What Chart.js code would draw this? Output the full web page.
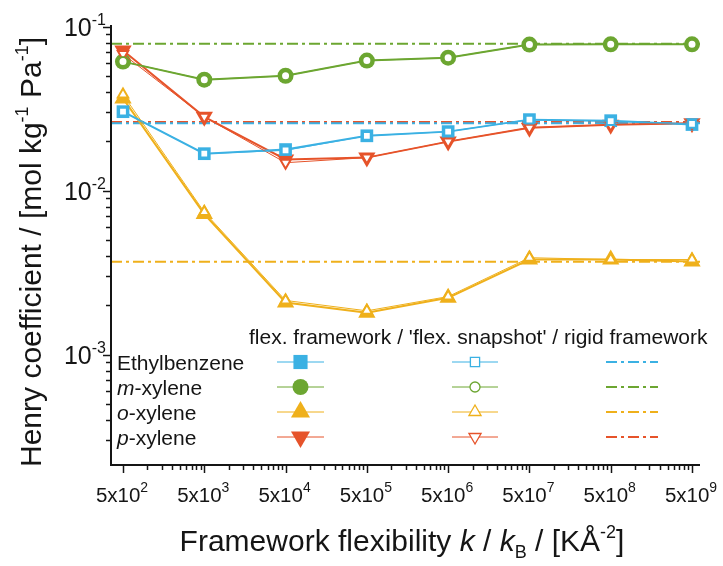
<!DOCTYPE html>
<html lang="en">
<head>
<meta charset="UTF-8" />
<title>Henry coefficient vs framework flexibility</title>
<script src="https://cdn.jsdelivr.net/npm/chart.js"></script>
<style>
  html, body { margin: 0; padding: 0; background: #fff; }
  #chart { display: block; }
</style>
</head>
<body>
<canvas id="chart" width="723" height="566"></canvas>
<script>
// framework flexibility k/kB in K/Å^2 (categories on a log axis)
const flexibility = [5e2, 5e3, 5e4, 5e5, 5e6, 5e7, 5e8, 5e9];
const xTickExponents = [2, 3, 4, 5, 6, 7, 8, 9];
const yTickExponents = [-1, -2, -3];

const molecules = ['Ethylbenzene', 'm-xylene', 'o-xylene', 'p-xylene'];

// Henry coefficients, mol kg^-1 Pa^-1 — flexible framework
const ethylFlex = [0.0303, 0.0168, 0.0178, 0.0216, 0.0229, 0.0271, 0.0267, 0.0253];
const metaFlex  = [0.0612, 0.0475, 0.0502, 0.0621, 0.0647, 0.0777, 0.0780, 0.0780];
const orthoFlex = [0.0365, 0.0072, 0.00208, 0.00180, 0.00222, 0.0038, 0.0038, 0.0037];
const paraFlex  = [0.0715, 0.0282, 0.0155, 0.0159, 0.0199, 0.0242, 0.0252, 0.0258];

// 'flex. snapshot'
const ethylSnap = [0.0303, 0.0168, 0.0176, 0.0216, 0.0229, 0.0271, 0.0265, 0.0255];
const metaSnap  = [0.0612, 0.0475, 0.0502, 0.0621, 0.0647, 0.0777, 0.0780, 0.0780];
const orthoSnap = [0.0385, 0.0074, 0.00214, 0.00185, 0.00226, 0.0039, 0.0038, 0.0038];
const paraSnap  = [0.0680, 0.0282, 0.0148, 0.0159, 0.0199, 0.0242, 0.0252, 0.0258];

// rigid framework (one value per molecule)
const rigidValues = [0.0258, 0.0787, 0.00369, 0.0262];

const flexSeries = [ethylFlex, metaFlex, orthoFlex, paraFlex];
const snapSeries = [ethylSnap, metaSnap, orthoSnap, paraSnap];

// styling
const colors = ['#3BB1E3', '#6CA631', '#EFB01B', '#E6532A'];
const markerStyles = ['rect', 'circle', 'triangle', 'triangle'];
const markerRotation = [0, 0, 0, 180];
const flexRadius = [9, 8, 10, 10];
const snapRadius = [5.5, 4.5, 6, 6];
const dashDot = [11, 4, 3, 4];

const xMin = Math.pow(10, 2.5514), xMax = Math.pow(10, 9.7974);
const yMin = Math.pow(10, -3.673), yMax = Math.pow(10, -0.99);

const INK = '#151515';
const F = (size, italic) => (italic ? 'italic ' : '') + size + 'px "Liberation Sans", Arial, sans-serif';

function pts(values) {
  return flexibility.map((x, i) => ({ x, y: values[i] }));
}

const datasets = [];
molecules.forEach((name, i) => {
  datasets.push({
    label: name + ' rigid',
    data: [{ x: xMin, y: rigidValues[i] }, { x: xMax, y: rigidValues[i] }],
    borderColor: colors[i],
    borderWidth: 2,
    borderDash: dashDot,
    pointRadius: 0,
    order: 3
  });
  datasets.push({
    label: name + ' flex',
    data: pts(flexSeries[i]),
    borderColor: colors[i],
    borderWidth: 2,
    pointStyle: markerStyles[i],
    rotation: markerRotation[i],
    pointRadius: flexRadius[i],
    pointBackgroundColor: colors[i],
    pointBorderColor: colors[i],
    pointBorderWidth: 0,
    order: 2
  });
  datasets.push({
    label: name + ' snapshot',
    data: pts(snapSeries[i]),
    borderColor: colors[i],
    borderWidth: 1,
    pointStyle: markerStyles[i],
    rotation: markerRotation[i],
    pointRadius: snapRadius[i],
    pointBackgroundColor: '#fff',
    pointBorderColor: colors[i],
    pointBorderWidth: 2,
    order: 1
  });
});

// text made of runs with different size / slant / baseline shift
function richText(ctx, parts, x, y, align) {
  let w = 0;
  parts.forEach(p => { ctx.font = p.f; p.w = ctx.measureText(p.t).width; w += p.w; });
  let cx = align === 'center' ? x - w / 2 : align === 'right' ? x - w : x;
  ctx.textAlign = 'left';
  ctx.textBaseline = 'alphabetic';
  parts.forEach(p => { ctx.font = p.f; ctx.fillText(p.t, cx, y + (p.dy || 0)); cx += p.w; });
}

function marker(ctx, style, x, y, r, rot, fill, stroke, lw) {
  ctx.save();
  ctx.translate(x, y);
  ctx.rotate(rot * Math.PI / 180);
  ctx.beginPath();
  if (style === 'rect') {
    const h = r * Math.SQRT1_2;
    ctx.rect(-h, -h, 2 * h, 2 * h);
  } else if (style === 'circle') {
    ctx.arc(0, 0, r, 0, Math.PI * 2);
  } else {
    for (let k = 0; k < 3; k++) {
      const a = k * 2 * Math.PI / 3;
      ctx[k ? 'lineTo' : 'moveTo'](Math.sin(a) * r, -Math.cos(a) * r);
    }
    ctx.closePath();
  }
  ctx.fillStyle = fill;
  ctx.fill();
  if (lw) { ctx.lineWidth = lw; ctx.strokeStyle = stroke; ctx.stroke(); }
  ctx.restore();
}

const figureAxes = {
  id: 'figureAxes',
  afterDraw(chart) {
    const { ctx, chartArea: a, scales: { x, y } } = chart;
    ctx.save();
    ctx.strokeStyle = INK;
    ctx.fillStyle = INK;

    // axis lines
    ctx.lineWidth = 2;
    ctx.beginPath();
    ctx.moveTo(a.left, a.top);
    ctx.lineTo(a.left, a.bottom);
    ctx.lineTo(a.right, a.bottom);
    ctx.stroke();

    // y ticks: decades + 2..9 minors
    ctx.lineWidth = 1.5;
    for (let n = -4; n <= -1; n++) {
      for (let k = 1; k <= 9; k++) {
        const v = k * Math.pow(10, n);
        if (v < yMin || v > yMax) continue;
        const py = Math.round(y.getPixelForValue(v)) + 0.5;
        const len = k === 1 ? 7 : 4;
        ctx.beginPath();
        ctx.moveTo(a.left - 1, py);
        ctx.lineTo(a.left - 1 - len, py);
        ctx.stroke();
      }
    }
    yTickExponents.forEach(e => {
      const py = y.getPixelForValue(Math.pow(10, e));
      richText(ctx, [
        { t: '10', f: F(25) },
        { t: String(e), f: F(16), dy: -11 }
      ], 106, py + 9, 'right');
    });

    // x ticks: 5x10^n majors, k*5x10^n minors
    flexibility.forEach((v0, i) => {
      const px = Math.round(x.getPixelForValue(v0)) + 0.5;
      ctx.beginPath();
      ctx.moveTo(px, a.bottom + 1);
      ctx.lineTo(px, a.bottom + 8);
      ctx.stroke();
      if (i === flexibility.length - 1) return;
      for (let k = 2; k <= 9; k++) {
        const mx = Math.round(x.getPixelForValue(v0 * k)) + 0.5;
        ctx.beginPath();
        ctx.moveTo(mx, a.bottom + 1);
        ctx.lineTo(mx, a.bottom + 5);
        ctx.stroke();
      }
    });
    flexibility.forEach((v0, i) => {
      const px = x.getPixelForValue(v0);
      richText(ctx, [
        { t: '5x10', f: F(20.5) },
        { t: String(xTickExponents[i]), f: F(14), dy: -10 }
      ], px - 1, 502, 'center');
    });

    // axis titles
    ctx.save();
    ctx.translate(30, 252);
    ctx.rotate(-Math.PI / 2);
    richText(ctx, [
      { t: 'Henry coefficient / [mol kg', f: F(30) },
      { t: '-1', f: F(18), dy: -13 },
      { t: ' Pa', f: F(30) },
      { t: '-1', f: F(18), dy: -13 },
      { t: ']', f: F(30) }
    ], 0, 11, 'center');
    ctx.restore();

    richText(ctx, [
      { t: 'Framework flexibility ', f: F(30) },
      { t: 'k', f: F(30, true) },
      { t: ' / ', f: F(30) },
      { t: 'k', f: F(30, true) },
      { t: 'B', f: F(18), dy: 7 },
      { t: ' / [K\u00C5', f: F(30) },
      { t: '-2', f: F(18), dy: -13 },
      { t: ']', f: F(30) }
    ], 402, 551, 'center');

    // legend
    richText(ctx, [{ t: "flex. framework / 'flex. snapshot' / rigid framework", f: F(21) }], 249, 344, 'left');
    const rowY = [362, 387, 412, 437];
    const labelParts = [
      [{ t: 'Ethylbenzene', f: F(21) }],
      [{ t: 'm', f: F(21, true) }, { t: '-xylene', f: F(21) }],
      [{ t: 'o', f: F(21, true) }, { t: '-xylene', f: F(21) }],
      [{ t: 'p', f: F(21, true) }, { t: '-xylene', f: F(21) }]
    ];
    molecules.forEach((name, i) => {
      const ry = rowY[i];
      richText(ctx, labelParts[i], 117, ry + 8, 'left');
      ctx.strokeStyle = colors[i];
      ctx.lineWidth = 1;
      ctx.setLineDash([]);
      ctx.beginPath();
      ctx.moveTo(277, ry); ctx.lineTo(324, ry);
      ctx.moveTo(452, ry); ctx.lineTo(498, ry);
      ctx.stroke();
      const big = [10, 8, 11, 11][i];
      const small = [6.5, 5, 7, 7][i];
      marker(ctx, markerStyles[i], 300.5, ry, big, markerRotation[i], colors[i], colors[i], 0);
      marker(ctx, markerStyles[i], 475, ry, small, markerRotation[i], '#fff', colors[i], 1.3);
      ctx.lineWidth = 2;
      ctx.setLineDash(dashDot);
      ctx.beginPath();
      ctx.moveTo(606, ry); ctx.lineTo(658, ry);
      ctx.stroke();
      ctx.setLineDash([]);
      ctx.fillStyle = INK;
    });

    ctx.restore();
  }
};

new Chart(document.getElementById('chart'), {
  type: 'line',
  data: { datasets },
  options: {
    responsive: false,
    animation: false,
    devicePixelRatio: 1,
    clip: false,
    layout: { padding: { left: 111, top: 25, right: 23, bottom: 101 } },
    scales: {
      x: { type: 'logarithmic', min: xMin, max: xMax, display: false },
      y: { type: 'logarithmic', min: yMin, max: yMax, display: false }
    },
    plugins: {
      legend: { display: false },
      tooltip: { enabled: false }
    }
  },
  plugins: [figureAxes]
});
</script>
</body>
</html>
